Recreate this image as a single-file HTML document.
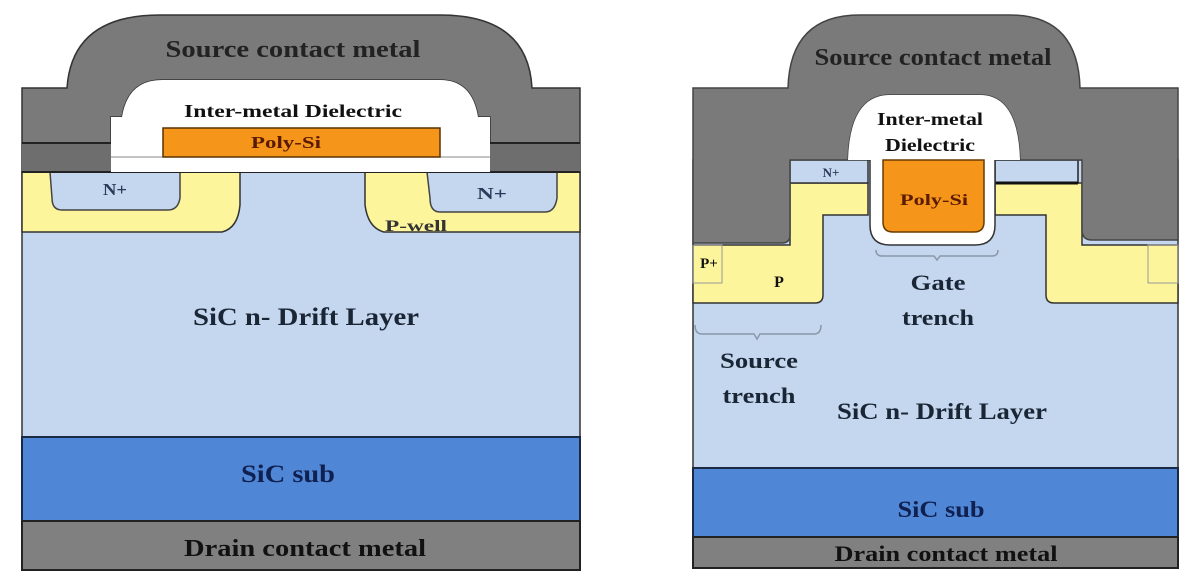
<!DOCTYPE html>
<html><head><meta charset="utf-8"><style>
html,body{margin:0;padding:0;background:#fff;width:1200px;height:581px;overflow:hidden}
text{font-family:"Liberation Serif",serif;font-weight:bold;text-anchor:middle}
</style></head><body>
<svg width="1200" height="581" viewBox="0 0 1200 581" xmlns="http://www.w3.org/2000/svg">
<!-- LEFT DIAGRAM -->
<rect x="22" y="172" width="558" height="265" fill="#c5d7ee" stroke="#333" stroke-width="1.5"/>
<path d="M22,172 H240 V205 Q238,228 222,232 H22 Z" fill="#fcf59c" stroke="#333" stroke-width="1.5"/>
<path d="M580,172 H365 V205 Q368,228 384,232 H580 Z" fill="#fcf59c" stroke="#333" stroke-width="1.5"/>
<path d="M50,172 H180 V198 Q178,210 168,210 H62 Q52,210 52,198 Z" fill="#c5d7ee" stroke="#444" stroke-width="1.5"/>
<path d="M427,172 H557 V198 Q555,212 545,212 H440 Q430,212 430,198 Z" fill="#c5d7ee" stroke="#444" stroke-width="1.5"/>
<path d="M22,172 V88 H67 Q72,15 160,15 H440 Q528,15 532,88 H580 V172 H490 V117 H478 Q472,80 440,80 H162 Q128,80 122,117 H111 V172 Z" fill="#7a7a7a" stroke="#333" stroke-width="1.5"/>
<rect x="22" y="143" width="89" height="29" fill="#6e6e6e"/>
<rect x="490" y="143" width="90" height="29" fill="#6e6e6e"/>
<line x1="22" y1="143" x2="111" y2="143" stroke="#222" stroke-width="2"/>
<line x1="490" y1="143" x2="580" y2="143" stroke="#222" stroke-width="2"/>
<line x1="22" y1="172" x2="580" y2="172" stroke="#222" stroke-width="2"/>
<path d="M111,172 V117 H122 Q128,80 162,80 H440 Q472,80 478,117 H490 V172 Z" fill="#fff"/>
<line x1="111" y1="157" x2="490" y2="157" stroke="#888" stroke-width="1"/>
<rect x="163" y="128" width="277" height="29" fill="#f5961a" stroke="#5a3000" stroke-width="1.5"/>
<rect x="22" y="437" width="558" height="84" fill="#4f87d6" stroke="#1a2a44" stroke-width="2"/>
<rect x="22" y="521" width="558" height="49" fill="#808080" stroke="#222" stroke-width="2"/>
<text x="293" y="57" font-size="24" fill="#222" textLength="255" lengthAdjust="spacingAndGlyphs">Source contact metal</text>
<text x="293" y="117" font-size="18" fill="#111" textLength="218" lengthAdjust="spacingAndGlyphs">Inter-metal Dielectric</text>
<text x="286" y="148" font-size="17" fill="#5a1a00" textLength="70" lengthAdjust="spacingAndGlyphs">Poly-Si</text>
<text x="115" y="195" font-size="17" fill="#2a3a5a" textLength="24" lengthAdjust="spacingAndGlyphs">N+</text>
<text x="492" y="199" font-size="17" fill="#2a3a5a" textLength="30" lengthAdjust="spacingAndGlyphs">N+</text>
<text x="416" y="231" font-size="16" fill="#333" textLength="62" lengthAdjust="spacingAndGlyphs">P-well</text>
<text x="306" y="325" font-size="25" fill="#1a2535" textLength="226" lengthAdjust="spacingAndGlyphs">SiC n- Drift Layer</text>
<text x="288" y="482" font-size="25" fill="#102050" textLength="94" lengthAdjust="spacingAndGlyphs">SiC sub</text>
<text x="305" y="556" font-size="24" fill="#111" textLength="242" lengthAdjust="spacingAndGlyphs">Drain contact metal</text>

<!-- RIGHT DIAGRAM -->
<rect x="693" y="160" width="485" height="308" fill="#c5d7ee" stroke="#333" stroke-width="1.5"/>
<path d="M693,245 H790 V183 H868 V215 H823 V295 Q823,303 815,303 H693 Z" fill="#fcf59c" stroke="#333" stroke-width="1.5"/>
<path d="M1178,245 H1082 V183 H995 V215 H1046 V295 Q1046,303 1054,303 H1178 Z" fill="#fcf59c" stroke="#333" stroke-width="1.5"/>
<rect x="790" y="160" width="78" height="23" fill="#c5d7ee" stroke="#333" stroke-width="1.5"/>
<rect x="995" y="160" width="83" height="23" fill="#c5d7ee" stroke="#222" stroke-width="1.5"/>
<line x1="995" y1="183" x2="1078" y2="183" stroke="#111" stroke-width="3"/>
<rect x="693" y="245" width="29" height="38" fill="none" stroke="#999" stroke-width="1"/>
<rect x="1148" y="245" width="30" height="38" fill="none" stroke="#999" stroke-width="1"/>
<path d="M693,245 V88 H788 Q790,15 860,15 H1010 Q1078,15 1080,88 H1178 V240 H1092 Q1082,240 1082,230 V160 H1020 Q1018,95 980,95 H890 Q850,95 848,160 H790 V235 Q790,243 782,243 H693 Z" fill="#7a7a7a" stroke="#444" stroke-width="1.5"/>
<path d="M848,160 Q850,95 890,95 H980 Q1018,95 1020,160 H995 V225 Q995,245 975,245 H890 Q870,245 870,225 V160 Z" fill="#fff"/>
<path d="M870,160 V225 Q870,245 890,245 H975 Q995,245 995,225 V160" fill="none" stroke="#333" stroke-width="1.5"/>
<path d="M883,160 H984 V222 Q984,232 974,232 H893 Q883,232 883,222 Z" fill="#f5961a" stroke="#6a3a00" stroke-width="1.5"/>
<path d="M876,250 Q876,256 882,256 H934 L937,260 L940,256 H992 Q998,256 998,250" fill="none" stroke="#8a98aa" stroke-width="1.5"/>
<path d="M695,325 Q695,334 702,334 H754 L757,339 L760,334 H814 Q821,334 821,325" fill="none" stroke="#8a98aa" stroke-width="1.5"/>
<rect x="693" y="468" width="485" height="69" fill="#4f87d6" stroke="#1a2a44" stroke-width="2"/>
<rect x="693" y="537" width="485" height="31" fill="#808080" stroke="#222" stroke-width="2"/>
<text x="933" y="65" font-size="24" fill="#222" textLength="237" lengthAdjust="spacingAndGlyphs">Source contact metal</text>
<text x="930" y="125" font-size="18" fill="#111" textLength="106" lengthAdjust="spacingAndGlyphs">Inter-metal</text>
<text x="930" y="151" font-size="18" fill="#111" textLength="90" lengthAdjust="spacingAndGlyphs">Dielectric</text>
<text x="934" y="205" font-size="16" fill="#5a1a00" textLength="68" lengthAdjust="spacingAndGlyphs">Poly-Si</text>
<text x="831" y="177" font-size="13" fill="#2a3a5a">N+</text>
<text x="709" y="268" font-size="15" fill="#111">P+</text>
<text x="779" y="287" font-size="16" fill="#111">P</text>
<text x="938" y="290" font-size="22" fill="#1a2535" textLength="55" lengthAdjust="spacingAndGlyphs">Gate</text>
<text x="938" y="325" font-size="22" fill="#1a2535" textLength="72" lengthAdjust="spacingAndGlyphs">trench</text>
<text x="759" y="368" font-size="22" fill="#1a2535" textLength="78" lengthAdjust="spacingAndGlyphs">Source</text>
<text x="759" y="403" font-size="22" fill="#1a2535" textLength="73" lengthAdjust="spacingAndGlyphs">trench</text>
<text x="942" y="419" font-size="23" fill="#1a2535" textLength="210" lengthAdjust="spacingAndGlyphs">SiC n- Drift Layer</text>
<text x="941" y="517" font-size="23" fill="#102050" textLength="87" lengthAdjust="spacingAndGlyphs">SiC sub</text>
<text x="946" y="561" font-size="22" fill="#111" textLength="223" lengthAdjust="spacingAndGlyphs">Drain contact metal</text>
</svg>
</body></html>
